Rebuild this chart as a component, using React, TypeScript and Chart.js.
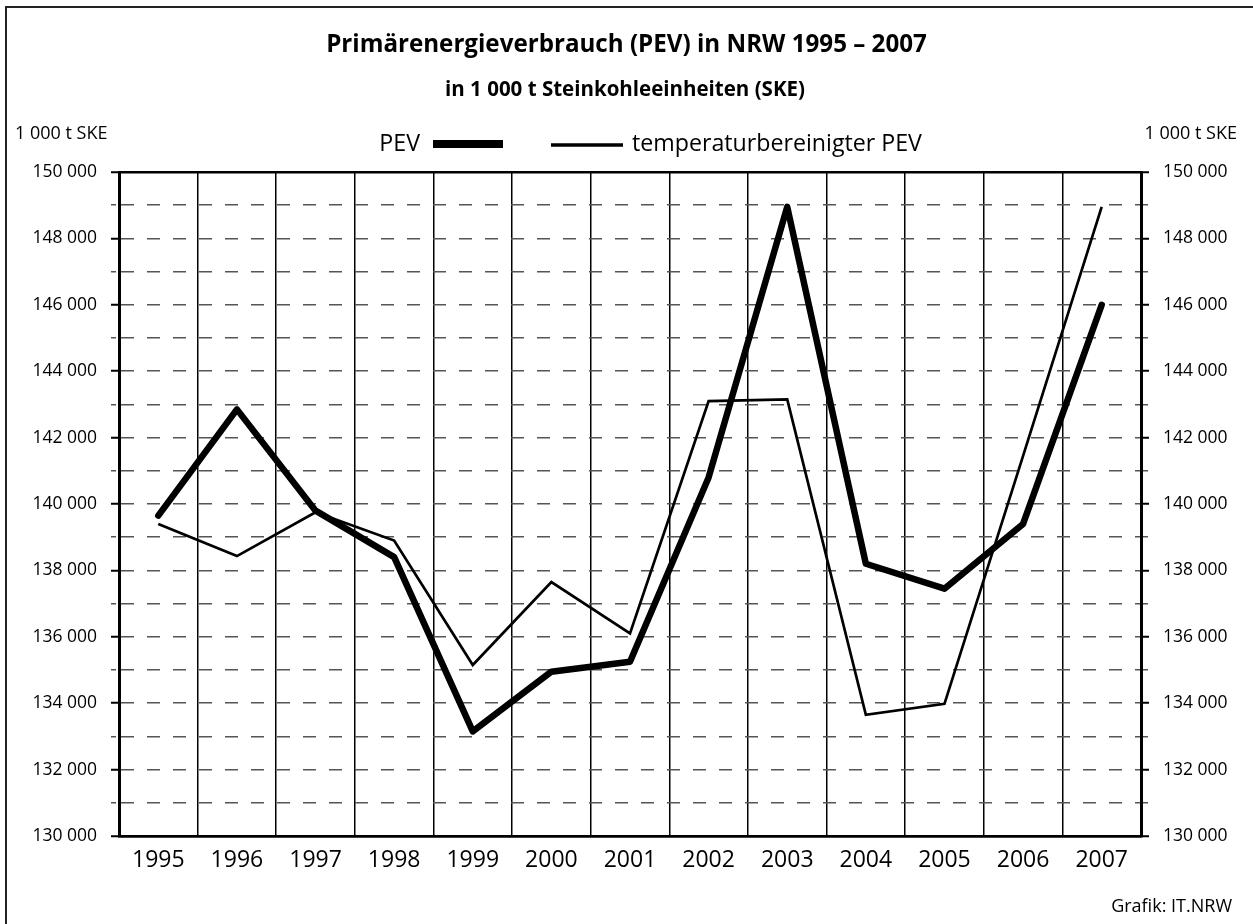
import React, { useEffect, useRef } from "react";
import { Chart, registerables } from "chart.js";

Chart.register(...registerables);

const years = ["1995", "1996", "1997", "1998", "1999", "2000", "2001", "2002", "2003", "2004", "2005", "2006", "2007"];
const pev = [139650, 142850, 139800, 138400, 133150, 134950, 135250, 140800, 148950, 138200, 137450, 139400, 146000];
const pevTemp = [139400, 138430, 139750, 138900, 135150, 137650, 136100, 143100, 143150, 133650, 133980, 141450, 148950];

const yMin = 130000;
const yMax = 150000;
const yStep = 1000;
const yLabelStep = 2000;

const titleText = "Primärenergieverbrauch (PEV) in NRW 1995 – 2007";
const subtitleText = "in 1 000 t Steinkohleeinheiten (SKE)";
const unitText = "1 000 t SKE";
const legendPev = "PEV";
const legendTemp = "temperaturbereinigter PEV";
const sourceText = "Grafik: IT.NRW";

const FONT = '"Open Sans", "Noto Sans", sans-serif';
const W = 1253;
const H = 924;

const fmt = (v: number) => String(v).replace(/\B(?=(\d{3})+(?!\d))/g, " ");

const isEdge = (v: number) => v === yMin || v === yMax;
const isMajor = (v: number) => v % yLabelStep === 0;

// set a font whose rendered width matches the target width
function fitFont(ctx: CanvasRenderingContext2D, text: string, weight: string, target: number, maxSize: number) {
  ctx.font = `${weight} 20px ${FONT}`;
  const w = ctx.measureText(text).width;
  const size = Math.min(maxSize, (20 * target) / w);
  ctx.font = `${weight} ${size.toFixed(2)}px ${FONT}`;
}

const textPlugin = {
  id: "texts",
  afterDraw(chart: any) {
    const ctx = chart.ctx as CanvasRenderingContext2D;
    ctx.save();
    // outer frame
    ctx.strokeStyle = "#222";
    ctx.lineWidth = 2;
    ctx.beginPath();
    ctx.moveTo(6, H + 2);
    ctx.lineTo(6, 7);
    ctx.lineTo(W + 2, 7);
    ctx.stroke();

    ctx.fillStyle = "#000";
    ctx.textBaseline = "middle";
    ctx.textAlign = "center";
    fitFont(ctx, titleText, "bold", 601, 26);
    ctx.fillText(titleText, 626.5, 45);
    fitFont(ctx, subtitleText, "bold", 396, 20.5);
    ctx.fillText(subtitleText, 625, 90);

    fitFont(ctx, unitText, "normal", 93, 18);
    ctx.textAlign = "left";
    ctx.fillText(unitText, 15, 134);
    ctx.textAlign = "right";
    ctx.fillText(unitText, 1237, 134);

    // legend
    fitFont(ctx, legendTemp, "normal", 290, 24);
    ctx.textAlign = "right";
    ctx.fillText(legendPev, 420, 144);
    ctx.textAlign = "left";
    ctx.fillText(legendTemp, 632, 144);
    ctx.strokeStyle = "#000";
    ctx.lineCap = "butt";
    ctx.lineWidth = 8;
    ctx.beginPath();
    ctx.moveTo(433, 144);
    ctx.lineTo(503, 144);
    ctx.stroke();
    ctx.lineWidth = 3.5;
    ctx.beginPath();
    ctx.moveTo(551, 145);
    ctx.lineTo(623, 145);
    ctx.stroke();

    fitFont(ctx, sourceText, "normal", 122, 18);
    ctx.textAlign = "right";
    ctx.fillText(sourceText, 1232, 907);
    ctx.restore();
  },
};

const yGrid = {
  color: (c: any) => (isEdge(c.tick?.value) ? "#000" : "#555"),
  lineWidth: (c: any) => (isEdge(c.tick?.value) ? 2.5 : 1.5),
  tickLength: 8,
  tickColor: (c: any) => (isMajor(c.tick?.value) ? "#000" : "#555"),
  tickWidth: (c: any) => (isMajor(c.tick?.value) ? 2 : 1.5),
  tickBorderDash: (c: any) => (isMajor(c.tick?.value) ? [] : [5, 100]),
};

const yBorder = {
  display: true,
  color: "#000",
  width: 3,
  dash: (c: any) => (isEdge(c.tick?.value) ? [] : [13, 13]),
};

const yTicks = {
  stepSize: yStep,
  autoSkip: false,
  color: "#000",
  font: { family: FONT, size: 17.5 },
  callback: (v: any) => (isMajor(Number(v)) ? fmt(Number(v)) : ""),
};

export default function App() {
  const ref = useRef<HTMLCanvasElement | null>(null);
  useEffect(() => {
    if (!ref.current) return;
    const chart = new Chart(ref.current, {
      type: "line",
      data: {
        labels: years,
        datasets: [
          {
            label: legendTemp,
            data: pevTemp,
            borderColor: "#000",
            borderWidth: 2.7,
            pointRadius: 0,
            tension: 0,
            fill: false,
            borderJoinStyle: "miter",
            borderCapStyle: "butt",
          },
          {
            label: legendPev,
            data: pev,
            borderColor: "#000",
            borderWidth: 6.5,
            pointRadius: 0,
            tension: 0,
            fill: false,
            borderJoinStyle: "round",
            borderCapStyle: "round",
          },
        ],
      },
      options: {
        animation: false,
        responsive: false,
        devicePixelRatio: 1,
        layout: { padding: { top: 172, left: 0, right: 0, bottom: 0 } },
        plugins: {
          legend: { display: false },
          title: { display: false },
          tooltip: { enabled: false },
        },
        scales: {
          x: {
            type: "category",
            offset: true,
            afterFit: (s: any) => {
              s.height = 88;
            },
            grid: { offset: true, color: "#000", lineWidth: 1.5, drawTicks: false },
            border: { display: true, color: "#000", width: 2.5 },
            ticks: { color: "#000", font: { family: FONT, size: 23 }, padding: 11, autoSkip: false, maxRotation: 0 },
          },
          y: {
            type: "linear",
            position: "left",
            min: yMin,
            max: yMax,
            afterFit: (s: any) => {
              s.width = 119;
            },
            grid: yGrid,
            border: yBorder,
            ticks: { ...yTicks, padding: 14 },
          },
          y2: {
            type: "linear",
            position: "right",
            min: yMin,
            max: yMax,
            afterFit: (s: any) => {
              s.width = 112;
            },
            grid: { ...yGrid, drawOnChartArea: false },
            border: yBorder,
            ticks: { ...yTicks, padding: 14 },
          },
        },
      } as any,
      plugins: [textPlugin],
    });
    return () => chart.destroy();
  }, []);

  return (
    <div style={{ position: "absolute", left: 0, top: 0, width: W, height: H, background: "#fff" }}>
      <canvas ref={ref} width={W} height={H} style={{ display: "block" }} />
    </div>
  );
}
